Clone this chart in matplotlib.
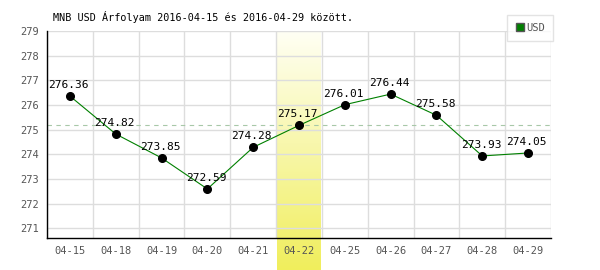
import numpy as np
import matplotlib
matplotlib.use('Agg')
import matplotlib.pyplot as plt
from matplotlib.lines import Line2D
from matplotlib.colors import LinearSegmentedColormap

# adatok
dates = ['04-15', '04-18', '04-19', '04-20', '04-21', '04-22',
         '04-25', '04-26', '04-27', '04-28', '04-29']
usd = [276.36, 274.82, 273.85, 272.59, 274.28, 275.17,
       276.01, 276.44, 275.58, 273.93, 274.05]
ref_value = 275.2
highlight = '04-22'
y_ticks = [271, 272, 273, 274, 275, 276, 277, 278, 279]

plt.rcParams['font.family'] = ['DejaVu Sans Mono']

fig = plt.figure(figsize=(6, 2.7), dpi=100, facecolor='w')
ax = fig.add_axes([47 / 600, 32 / 270, 504 / 600, 207 / 270])

x = np.arange(len(dates))
ymin, ymax = 270.6, 279.0

# kiemelt nap sarga savja (a tengely ala is lenyulik)
hi = dates.index(highlight)
cmap = LinearSegmentedColormap.from_list('sav', ['#fffff4', '#f0ee5c'])
grad = np.linspace(0, 1, 256).reshape(-1, 1)
below = (ymax - ymin) / 207 * 32
ax.imshow(grad, cmap=cmap, aspect='auto', origin='upper',
          extent=(hi - 0.48, hi + 0.48, ymin - below, ymax),
          clip_on=False, zorder=0)

# racs
for yv in y_ticks:
    ax.axhline(yv, color='#dddddd', lw=1, zorder=1)
for xv in np.arange(-0.5, len(dates), 1.0):
    ax.axvline(xv, color='#dddddd', lw=1, zorder=1)
ax.axhline(ref_value, color='#a8c8a8', lw=0.8, ls=(0, (4, 4)), zorder=2)

ax.plot(x, usd, '-', color='#008000', lw=0.8, zorder=3)
ax.plot(x, usd, 'o', color='black', ms=5.5, zorder=4)
for xi, yi in zip(x, usd):
    ax.text(xi - 0.03, yi + 0.25, '%.2f' % yi, ha='center', va='bottom',
            fontsize=8, color='black', zorder=5)

ax.set_xlim(-0.5, len(dates) - 0.5)
ax.set_ylim(ymin, ymax)
ax.set_xticks(x)
ax.set_xticklabels(dates)
ax.set_yticks(y_ticks)
ax.tick_params(length=0, labelsize=7.5, colors='#555555', pad=6)
for s in ['top', 'right']:
    ax.spines[s].set_visible(False)
for s in ['left', 'bottom']:
    ax.spines[s].set_color('black')
    ax.spines[s].set_linewidth(1)

fig.text(53 / 600, 1 - 17 / 270, 'MNB USD Árfolyam 2016-04-15 és 2016-04-29 között.',
         fontsize=7.3, color='black', va='center', ha='left')

h = Line2D([], [], marker='s', color='#008000', markeredgecolor='#555555',
           ls='none', ms=5.5)
leg = fig.legend([h], ['USD'], loc='upper right', bbox_to_anchor=(553 / 600, 1 - 15 / 270),
                 fontsize=7.5, frameon=True, fancybox=False, handletextpad=0.1,
                 borderpad=0.75, handlelength=1.0, borderaxespad=0)
leg.get_frame().set_edgecolor('#dddddd')
for t in leg.get_texts():
    t.set_color('#555555')

plt.savefig('out.png', dpi=100, facecolor='w')
